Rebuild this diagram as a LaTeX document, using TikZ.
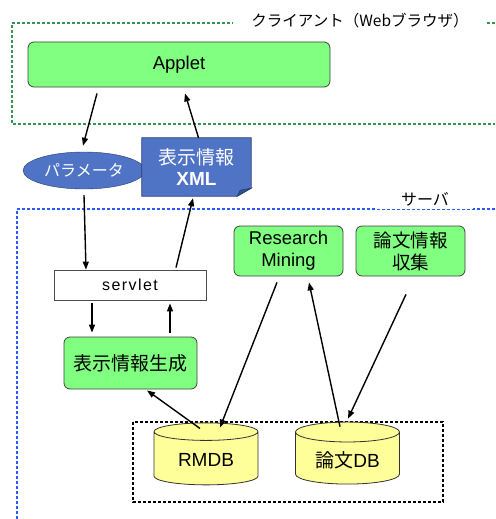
\documentclass[tikz,border=0pt]{standalone}
\usepackage{fontspec}
\setmainfont{Liberation Sans}
\newfontfamily\jp{Noto Sans CJK JP}
\newfontfamily\spaced[LetterSpace=9]{Liberation Sans}
\usepackage{tikz}
\usetikzlibrary{positioning, arrows.meta, shapes.geometric, calc}
\definecolor{boxgreen}{RGB}{128,255,128}
\definecolor{dbyellow}{RGB}{255,255,153}
\definecolor{docblue}{RGB}{79,116,198}
\definecolor{docedge}{RGB}{40,60,110}
\definecolor{clientline}{RGB}{50,150,80}
\definecolor{serverline}{RGB}{40,90,255}

\tikzset{
  greenbox/.style={draw=black!75, fill=boxgreen, rounded corners=6pt, line width=0.8pt, align=center, font=\fontsize{18.5}{22}\selectfont},
  dbcyl/.style={cylinder, shape border rotate=90, aspect=0.28, draw=black!80, fill=dbyellow, line width=0.8pt, font=\fontsize{19}{22}\selectfont},
  flow/.style={-{Triangle[length=8pt, width=6pt]}, line width=1.4pt}
}

\begin{document}
\begin{tikzpicture}[x=1pt, y=-1pt]
    \useasboundingbox (0,0) rectangle (495,519);

    % === CLIENT (WEB BROWSER) ===
    \draw[clientline, line width=1.2pt, dash pattern=on 3pt off 2pt] (495,23) -- (12,23) -- (12,124) -- (495,124);
    \node[fill=white, inner xsep=18pt, font=\jp\fontsize{15.5}{18}\selectfont] (clientlbl) at (360,21) {クライアント（Webブラウザ）};

    \node[greenbox, minimum width=302pt, minimum height=45pt] (applet) at (179,64.5) {Applet};

    % parameter ellipse
    \node[ellipse, draw=docedge, fill=docblue, text=white, minimum width=104pt, minimum height=37pt, font=\jp\fontsize{16}{18}\selectfont] (param) at (84,170.5) {パラメータ};

    % display info document (folded corner)
    \node[minimum width=109pt, minimum height=58pt, inner sep=0pt] (xml) at (196.5,167) {};
    \fill[docblue, draw=docedge, line width=0.8pt] (xml.north west) -- (xml.north east) -- ([yshift=8pt]xml.south east) -- ([xshift=-14pt]xml.south east) -- (xml.south west) -- cycle;
    \fill[docblue!70!black, draw=docedge, line width=0.6pt] ([yshift=8pt]xml.south east) -- ([xshift=-11pt,yshift=6pt]xml.south east) -- ([xshift=-14pt]xml.south east) -- cycle;
    \node[text=white, align=center, font=\fontsize{19}{22}\selectfont] (xmltxt) at (xml.center) {{\jp 表示情報}\\[-1pt]\textbf{XML}};

    % === SERVER ===
    \draw[serverline, line width=1.2pt, dash pattern=on 3pt off 2pt] (495,209) -- (17,209) -- (17,519);
    \node[fill=white, inner xsep=24pt, font=\jp\fontsize{16}{18}\selectfont] (serverlbl) at (425,199) {サーバ};

    \node[greenbox, minimum width=109pt, minimum height=50pt, inner sep=1pt] (research) at (288.5,251) {Research\\Mining};
    \node[greenbox, minimum width=109pt, minimum height=50pt, inner sep=1pt, font=\jp\fontsize{18.5}{22}\selectfont] (collect) at (410.5,251) {論文情報\\収集};

    \node[draw=black!70, fill=white, line width=0.8pt, minimum width=152pt, minimum height=30pt, font=\spaced\fontsize{16}{18}\selectfont] (servlet) at (130,285) {servlet};

    \node[greenbox, minimum width=133pt, minimum height=52pt, font=\jp\fontsize{19}{22}\selectfont] (gen) at (130.5,363) {表示情報生成};

    % databases
    \draw[black, line width=1.2pt, dash pattern=on 3pt off 2pt] (133,422) rectangle (443,502);
    \node[dbcyl, minimum width=104pt, minimum height=62pt] (rmdb) at (206,460) {RMDB};
    \node[dbcyl, minimum width=104pt, minimum height=62pt] (paperdb) at (347.5,460) {{\jp 論文}DB};

    % === FLOWS ===
    \draw[flow] ([xshift=-82pt, yshift=-6pt]applet.south) -- ([xshift=-1pt, yshift=6pt]param.north);
    \draw[flow] ([xshift=2pt]xml.north) -- ([xshift=6pt, yshift=-6pt]applet.south);
    \draw[flow] ([yshift=-6pt]param.south) -- ([xshift=-44pt]servlet.north);
    \draw[flow] ([xshift=46pt, yshift=2pt]servlet.north) -- ([xshift=-3.5pt, yshift=-2pt]xml.south);
    \draw[flow] ([xshift=-38pt, yshift=-3pt]servlet.south) -- ([xshift=-38.5pt, yshift=4pt]gen.north);
    \draw[flow] ([xshift=39.5pt, yshift=4pt]gen.north) -- ([xshift=40pt, yshift=-3pt]servlet.south);
    \draw[flow] ([xshift=-6pt, yshift=-6pt]rmdb.north) -- ([xshift=16.5pt, yshift=-1pt]gen.south);
    \draw[flow] ([xshift=-11.5pt, yshift=-6pt]research.south) -- ([xshift=14pt, yshift=-5pt]rmdb.north);
    \draw[flow] ([xshift=-7.5pt, yshift=-5pt]paperdb.north) -- ([xshift=20.5pt, yshift=-6pt]research.south);
    \draw[flow] ([xshift=-4.5pt, yshift=-18pt]collect.south) -- ([xshift=0.5pt, yshift=3pt]paperdb.north);

\end{tikzpicture}
\end{document}
